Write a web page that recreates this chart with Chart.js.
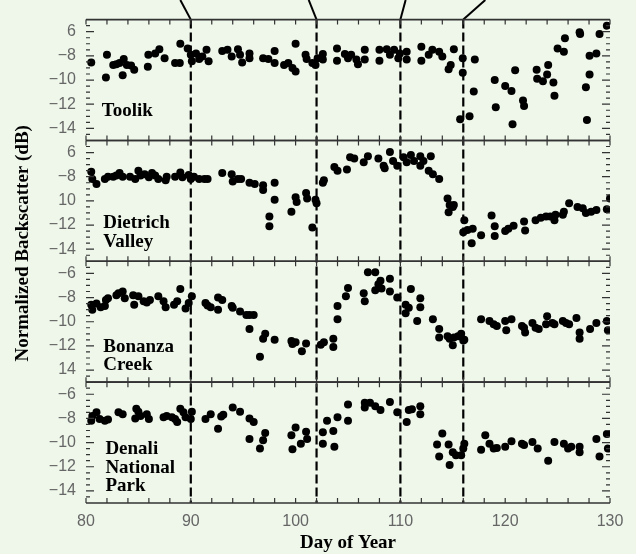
<!DOCTYPE html>
<html><head><meta charset="utf-8">
<script src="https://cdn.jsdelivr.net/npm/chart.js@4/dist/chart.umd.min.js"></script>
<style>html,body{margin:0;padding:0;background:#eef7ea;}#wrap{width:636px;height:554px;position:relative;}</style>
</head><body><div id="wrap"><canvas id="c" width="636" height="554"></canvas></div>
<script>
// ---- data (day of year, normalized backscatter dB) ----
const toolik = [[80.5,-8.55],[81.9,-9.8],[82.0,-7.9],[82.6,-8.75],[82.9,-8.7],[83.2,-8.6],[83.5,-9.6],[83.6,-8.25],[83.9,-8.75],[84.3,-8.8],[84.6,-9.15],[85.9,-8.9],[85.95,-7.9],[86.6,-7.8],[87.0,-7.45],[87.5,-8.2],[88.5,-8.6],[88.95,-8.6],[89.0,-7.0],[89.7,-7.4],[90.0,-7.9],[90.1,-8.45],[90.5,-7.8],[90.8,-8.25],[91.1,-8.05],[91.5,-7.5],[91.7,-8.45],[93.0,-7.6],[93.5,-7.5],[93.9,-8.05],[94.5,-7.45],[94.7,-7.9],[94.9,-8.55],[95.6,-7.8],[95.6,-8.2],[96.9,-8.2],[97.4,-8.25],[98.0,-7.6],[98.0,-8.6],[98.9,-8.75],[99.3,-8.6],[99.7,-9.0],[100.0,-7.0],[100.0,-9.3],[100.95,-7.9],[101.05,-8.25],[101.6,-8.6],[101.9,-8.75],[102.1,-8.2],[102.6,-7.85],[102.6,-8.3],[103.95,-7.4],[103.95,-8.4],[104.7,-7.85],[105.0,-8.2],[105.3,-7.9],[105.8,-8.3],[105.95,-8.7],[106.6,-7.5],[106.6,-8.3],[108.0,-7.5],[108.0,-8.4],[108.7,-7.45],[109.0,-7.9],[109.4,-7.5],[109.8,-8.2],[109.95,-7.8],[110.6,-7.65],[110.6,-8.3],[112.0,-7.25],[112.0,-8.4],[112.7,-7.9],[113.05,-7.5],[113.7,-7.65],[114.0,-8.05],[114.6,-9.1],[114.8,-8.75],[115.1,-7.45],[115.7,-13.25],[115.95,-8.2],[115.95,-9.4],[116.6,-13.0],[117.0,-10.95],[117.1,-8.3],[119.0,-10.0],[119.1,-12.25],[120.0,-10.5],[120.6,-10.9],[120.7,-13.65],[120.95,-9.2],[121.7,-11.7],[121.8,-12.15],[123.0,-9.15],[123.05,-9.9],[123.6,-10.1],[124.0,-9.55],[124.1,-8.75],[124.6,-10.2],[124.7,-11.3],[125.0,-7.4],[125.6,-7.65],[125.7,-6.55],[127.1,-6.05],[127.15,-6.2],[127.7,-10.6],[127.8,-13.3],[128.05,-8.0],[128.05,-9.55],[128.7,-7.8],[129.0,-6.2],[129.7,-5.5]];
const dietrich = [[80.5,-7.6],[80.6,-8.2],[81.0,-8.6],[81.8,-8.2],[82.1,-8.0],[82.6,-8.0],[82.9,-7.9],[83.2,-7.7],[83.5,-8.0],[84.2,-8.0],[84.7,-8.2],[85.0,-7.5],[85.2,-7.9],[85.6,-7.8],[86.0,-8.05],[86.3,-7.7],[86.6,-7.9],[86.9,-8.2],[87.6,-8.3],[87.7,-8.0],[88.5,-8.0],[89.0,-7.65],[89.2,-8.05],[89.8,-7.85],[90.0,-8.2],[90.3,-8.0],[90.8,-8.2],[91.3,-8.2],[91.6,-8.2],[93.0,-7.7],[93.9,-7.8],[94.0,-8.4],[94.5,-8.2],[94.8,-8.2],[95.6,-8.5],[96.1,-8.6],[96.9,-8.7],[96.9,-9.1],[98.0,-8.5],[98.0,-9.9],[97.5,-11.3],[97.5,-12.1],[99.6,-10.9],[100.0,-9.7],[100.1,-10.1],[101.0,-9.35],[101.1,-9.8],[101.6,-12.2],[101.9,-9.9],[102.0,-10.2],[102.6,-8.5],[102.7,-8.3],[103.7,-7.2],[104.0,-7.5],[104.9,-7.4],[105.2,-6.4],[105.6,-6.5],[106.5,-6.8],[106.9,-6.3],[107.9,-6.5],[108.4,-7.1],[108.5,-7.3],[109.0,-5.95],[109.3,-6.7],[109.7,-7.1],[110.3,-6.4],[110.6,-6.8],[111.0,-6.2],[111.3,-6.7],[111.9,-6.3],[111.9,-7.1],[112.2,-6.7],[112.9,-6.3],[112.7,-7.5],[113.1,-7.8],[113.7,-8.2],[114.5,-9.8],[114.7,-10.35],[115.0,-10.5],[115.1,-10.35],[114.6,-10.95],[116.1,-11.6],[116.0,-12.6],[116.4,-12.4],[116.9,-12.3],[116.8,-13.5],[117.7,-12.85],[118.7,-11.2],[119.0,-12.1],[119.0,-12.9],[120.0,-12.5],[120.3,-12.3],[120.8,-12.05],[121.8,-11.7],[121.9,-12.45],[122.9,-11.6],[123.4,-11.4],[123.9,-11.3],[124.3,-11.3],[124.7,-11.6],[124.8,-11.15],[125.5,-11.15],[125.6,-10.9],[126.1,-10.2],[126.9,-10.5],[127.4,-10.6],[127.7,-11.0],[128.2,-10.9],[128.7,-10.75],[129.7,-10.7],[130.0,-9.8]];
const bonanza = [[80.5,-8.6],[80.6,-9.0],[81.0,-8.5],[81.4,-8.8],[81.8,-8.7],[81.9,-8.2],[82.1,-8.05],[82.9,-7.8],[83.1,-7.65],[83.5,-7.5],[83.7,-8.05],[84.5,-7.8],[84.6,-8.6],[85.0,-7.9],[85.5,-8.3],[85.8,-8.4],[86.1,-8.2],[86.9,-7.9],[87.4,-8.3],[87.6,-8.8],[88.4,-8.6],[88.7,-8.3],[89.0,-7.3],[89.5,-8.9],[89.8,-8.45],[90.1,-7.9],[91.4,-8.45],[91.6,-8.65],[91.9,-8.8],[92.6,-8.0],[92.6,-9.0],[93.0,-8.2],[93.9,-8.7],[94.0,-8.85],[94.7,-9.15],[95.3,-9.45],[95.6,-9.45],[96.0,-9.45],[95.6,-10.6],[96.9,-11.4],[97.1,-11.0],[98.0,-11.5],[96.6,-12.9],[99.6,-11.6],[99.7,-11.85],[100.0,-11.7],[100.6,-12.45],[101.0,-11.8],[102.4,-11.9],[102.7,-11.7],[103.6,-11.4],[103.6,-12.1],[104.0,-9.8],[104.0,-8.7],[104.8,-7.9],[105.0,-7.2],[106.5,-7.65],[106.6,-8.3],[106.9,-5.9],[107.6,-5.9],[107.6,-7.4],[107.9,-6.9],[108.1,-6.6],[108.2,-7.25],[109.0,-6.45],[109.0,-7.5],[109.7,-8.0],[110.5,-8.6],[110.5,-9.3],[110.8,-8.85],[111.0,-7.3],[111.6,-9.95],[111.9,-8.05],[111.9,-8.8],[113.1,-9.8],[113.7,-10.6],[113.7,-11.3],[114.5,-11.2],[114.7,-11.4],[115.0,-11.95],[115.1,-11.3],[115.5,-11.2],[115.8,-11.0],[116.0,-11.55],[116.1,-11.5],[117.7,-9.8],[118.5,-9.95],[118.9,-10.2],[119.2,-10.35],[120.0,-9.95],[120.1,-10.7],[120.6,-9.8],[121.6,-10.35],[121.8,-10.5],[121.9,-10.9],[122.6,-10.1],[122.9,-10.5],[123.2,-10.6],[123.9,-10.2],[124.0,-9.55],[124.5,-10.1],[124.7,-10.2],[125.5,-9.95],[125.8,-10.1],[126.1,-10.2],[126.8,-9.7],[127.1,-10.9],[127.1,-11.4],[128.1,-10.6],[128.7,-10.1],[129.7,-9.95],[129.8,-10.7]];
const denali = [[80.5,-8.2],[80.6,-7.8],[81.0,-7.5],[81.3,-8.05],[81.8,-8.2],[82.1,-8.1],[83.1,-7.5],[83.5,-7.65],[84.7,-8.0],[84.8,-7.2],[85.0,-7.45],[85.2,-7.8],[85.8,-7.65],[86.0,-8.05],[87.4,-7.9],[87.7,-7.8],[88.2,-7.9],[88.5,-8.05],[88.7,-8.3],[89.0,-7.2],[89.3,-7.5],[89.5,-7.9],[90.1,-7.45],[90.0,-8.05],[91.4,-8.05],[91.9,-7.65],[92.6,-8.85],[92.9,-7.85],[93.1,-7.7],[94.0,-7.1],[94.7,-7.45],[95.6,-8.0],[96.0,-8.3],[95.6,-9.7],[96.6,-10.5],[96.9,-9.8],[97.1,-9.2],[99.6,-9.4],[99.7,-10.55],[100.0,-8.75],[100.5,-10.1],[101.0,-9.1],[101.1,-9.7],[102.6,-9.15],[102.6,-10.1],[103.0,-8.2],[103.6,-9.05],[103.7,-10.35],[104.0,-7.9],[105.0,-6.85],[105.0,-8.2],[106.6,-6.7],[106.6,-7.1],[107.1,-6.7],[107.6,-7.0],[108.1,-7.3],[109.0,-6.65],[109.7,-7.5],[110.6,-8.3],[110.8,-7.3],[111.1,-7.25],[111.9,-7.0],[111.9,-7.65],[113.5,-10.15],[113.7,-11.15],[114.0,-9.25],[114.6,-10.15],[114.7,-11.85],[115.0,-10.8],[115.3,-11.05],[115.8,-11.05],[116.0,-10.5],[116.1,-10.1],[117.7,-10.6],[118.1,-9.4],[118.5,-10.1],[118.9,-10.5],[119.2,-10.45],[120.0,-10.35],[120.6,-9.9],[121.6,-10.1],[121.8,-10.2],[122.6,-9.95],[123.1,-10.5],[124.1,-11.5],[124.7,-9.95],[125.6,-10.1],[126.0,-10.5],[126.3,-10.35],[127.1,-10.8],[127.1,-10.35],[128.7,-9.7],[129.0,-11.15],[129.7,-9.3],[129.8,-10.5]];

const panels = [toolik, dietrich, bonanza, denali];
const siteNames = [["Toolik"],["Dietrich","Valley"],["Bonanza","Creek"],["Denali","National","Park"]];
const labelAnchors = [[81.5,-13.0],[81.65,-12.26],[81.65,-12.5],[81.85,-10.98]];
const yTickValues = [-6,-8,-10,-12,-14];
const yTickLabels = [["6","−8","−10","−12","−14"],["6","−8","10","−12","−14"],["−6","−8","−10","−12","14"],["−6","−8","−10","−12","−14"]];
const xTickValues = [80,90,100,110,120,130];
const eventDays = [90,102,110,116];
const connectorTopDays = [89,101.25,110.5,118.1];
const yAxisTitle = "Normalized Backscatter (dB)";
const xAxisTitle = "Day of Year";

const SERIF = "'Liberation Serif','Times New Roman',serif";
const SANS = "'Liberation Sans',Arial,sans-serif";

function yScaleOpts(i){
  return {
    type:'linear', position:'left', stack:'panels', stackWeight:1, min:-15, max:-5,
    afterBuildTicks: s => { s.ticks = yTickValues.map(v => ({value:v})); },
    ticks:{ callback:(v,idx)=>yTickLabels[i][idx], font:{family:SANS,size:16}, color:'#666', padding:10, autoSkip:false },
    grid:{display:false, drawTicks:false}, border:{display:false},
    afterFit: s => { s.width = 86; }
  };
}

const decor = {
  id:'decor',
  beforeDatasetsDraw(chart){
    const ctx = chart.ctx, xs = chart.scales.x, area = chart.chartArea;
    ctx.save();
    ctx.strokeStyle = '#000'; ctx.lineWidth = 2.2;
    ctx.setLineDash([9,4]);
    eventDays.forEach(d => {
      const px = xs.getPixelForValue(d);
      ctx.beginPath(); ctx.moveTo(px, area.top); ctx.lineTo(px, area.bottom); ctx.stroke();
    });
    ctx.setLineDash([]);
    ctx.lineWidth = 2;
    eventDays.forEach((d,i) => {
      const px = xs.getPixelForValue(d), tx = xs.getPixelForValue(connectorTopDays[i]);
      ctx.beginPath(); ctx.moveTo(px, area.top); ctx.lineTo(tx, 0); ctx.stroke();
    });
    ctx.restore();
  },
  afterDatasetsDraw(chart){
    const ctx = chart.ctx, xs = chart.scales.x;
    ctx.save();
    ['y0','y1','y2','y3'].forEach((id,i) => {
      const ys = chart.scales[id];
      ctx.strokeStyle = '#333'; ctx.lineWidth = 1.6;
      [ys.top, ys.bottom].forEach(y => { ctx.beginPath(); ctx.moveTo(xs.left, y); ctx.lineTo(xs.right, y); ctx.stroke(); });
      ctx.lineWidth = 1.2;
      for (let d = 80; d <= 130; d += 2) {
        const px = xs.getPixelForValue(d);
        ctx.beginPath(); ctx.moveTo(px, ys.top); ctx.lineTo(px, ys.top + 5);
        ctx.moveTo(px, ys.bottom); ctx.lineTo(px, ys.bottom - 5); ctx.stroke();
      }
      for (let v = -14.5; v <= -5.5; v += 0.5) {
        const py = ys.getPixelForValue(v);
        const len = (Math.abs(v % 2) === 0) ? 8 : 4;
        ctx.beginPath(); ctx.moveTo(xs.left, py); ctx.lineTo(xs.left + len, py);
        ctx.moveTo(xs.right, py); ctx.lineTo(xs.right - len, py); ctx.stroke();
      }
      ctx.fillStyle = '#000';
      ctx.font = "bold 19px " + SERIF;
      ctx.textAlign = 'left'; ctx.textBaseline = 'alphabetic';
      const lx = xs.getPixelForValue(labelAnchors[i][0]);
      const ly = ys.getPixelForValue(labelAnchors[i][1]);
      siteNames[i].forEach((t,k) => ctx.fillText(t, lx, ly + k*18.5));
    });
    const mid = (chart.scales.y0.top + chart.scales.y3.bottom)/2 - 18;
    ctx.translate(28, mid); ctx.rotate(-Math.PI/2);
    ctx.font = "bold 19px " + SERIF; ctx.textAlign = 'center'; ctx.textBaseline = 'alphabetic'; ctx.fillStyle = '#000';
    ctx.fillText(yAxisTitle, 0, 0);
    ctx.restore();
  }
};

const datasets = panels.map((pts,i) => ({
  data: pts.map(([x,y]) => ({x, y})),
  yAxisID: 'y'+i,
  pointRadius: 4, pointHoverRadius: 4, pointBorderWidth: 0,
  backgroundColor: '#000', borderColor: '#000', showLine:false
}));

new Chart(document.getElementById('c'), {
  type:'scatter',
  data:{ datasets },
  options:{
    responsive:false, animation:false, devicePixelRatio:1, events:[],
    layout:{ padding:{ top:8, right:26, left:0, bottom:0 } },
    plugins:{ legend:{display:false}, tooltip:{enabled:false} },
    scales:{
      x:{ type:'linear', min:80, max:130,
          afterBuildTicks: s => { s.ticks = xTickValues.map(v => ({value:v})); },
          ticks:{ font:{family:SANS,size:16}, color:'#666', padding:9, maxRotation:0, autoSkip:false },
          grid:{display:false, drawTicks:false}, border:{display:false},
          title:{ display:true, text:xAxisTitle, font:{family:SERIF,size:19,weight:'bold'}, color:'#000', padding:{top:0,bottom:0} },
          afterFit: s => { s.height = 51; } },
      y3: yScaleOpts(3), y2: yScaleOpts(2), y1: yScaleOpts(1), y0: yScaleOpts(0)
    }
  },
  plugins:[decor]
});
</script></body></html>
